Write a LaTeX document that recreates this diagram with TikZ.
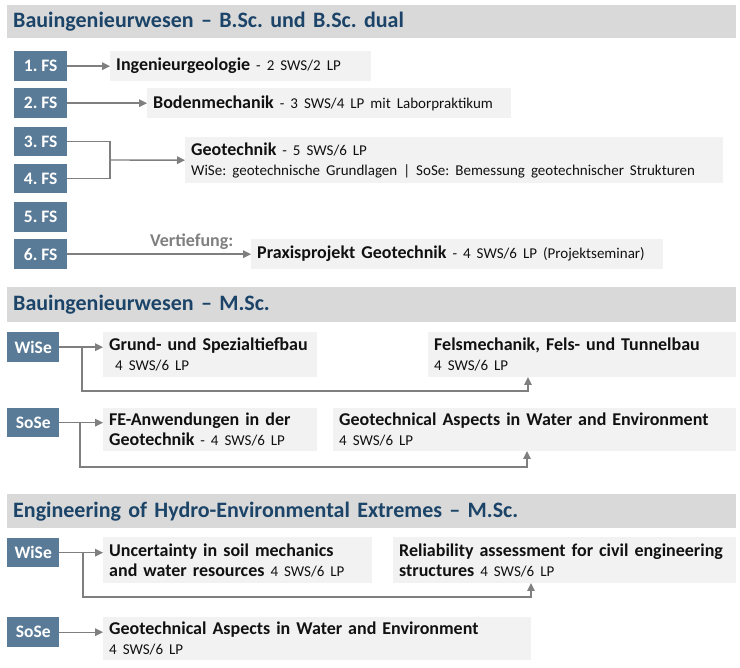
\documentclass[tikz,border=0pt]{standalone}
\usepackage{fontspec}
\setmainfont{Carlito}
\usetikzlibrary{arrows.meta}
\definecolor{hdrband}{HTML}{D9D9D9}
\definecolor{hdrtext}{HTML}{1B4468}
\definecolor{fsblue}{HTML}{5A7B97}
\definecolor{boxgray}{HTML}{F2F2F2}
\definecolor{linegray}{HTML}{7F7F7F}
\definecolor{bodytext}{HTML}{111111}
\frenchspacing
\newcommand\swsx[1]{{\mdseries\fontsize{15}{18}\selectfont #1}}
\tikzset{
  hdr/.style={fill=hdrband, text=hdrtext, anchor=north west, inner xsep=6pt, inner ysep=0pt,
    text width=717pt, align=left, font=\bfseries\fontsize{22}{26}\selectfont},
  fsbox/.style={fill=fsblue, text=white, anchor=north west, inner sep=0pt,
    minimum width=53pt, font=\bfseries\fontsize{17.5}{20}\selectfont},
  modbox/.style={fill=boxgray, text=bodytext, anchor=north west, inner xsep=6pt, inner ysep=0pt,
    align=left, font=\bfseries\fontsize{18}{20}\selectfont},
  conn/.style={draw=linegray, line width=1.4pt},
  arr/.style={conn, -{Triangle[length=8pt,width=7.5pt]}},
}
\begin{document}
\begin{tikzpicture}[x=1pt,y=-1pt]
\useasboundingbox (0,0) rectangle (740,668);
% ---------- Section 1 ----------
\node[hdr, minimum height=33pt] (h1) at (7,5) {Bauingenieurwesen – B.Sc. und B.Sc. dual};
\node[fsbox, minimum height=30pt] (fs1) at (14,51) {1. FS};
\node[fsbox, minimum height=30pt] (fs2) at (14,88) {2. FS};
\node[fsbox, minimum height=29pt] (fs3) at (14,127) {3. FS};
\node[fsbox, minimum height=29pt] (fs4) at (14,164) {4. FS};
\node[fsbox, minimum height=30pt] (fs5) at (14,202) {5. FS};
\node[fsbox, minimum height=30pt] (fs6) at (14,239) {6. FS};
\node[modbox, text width=249pt, minimum height=30pt] (m1) at (110,51) {Ingenieurgeologie \swsx{- 2 SWS/2 LP}};
\node[modbox, text width=352pt, minimum height=30pt] (m2) at (147,88) {Bodenmechanik \swsx{- 3 SWS/4 LP mit Laborpraktikum}};
\node[modbox, text width=526pt, minimum height=46pt] (m3) at (185,137) {Geotechnik \swsx{- 5 SWS/6 LP}\\\swsx{WiSe: geotechnische Grundlagen | SoSe: Bemessung geotechnischer Strukturen}};
\node[modbox, text width=400pt, minimum height=30pt] (m6) at (251,239) {Praxisprojekt Geotechnik \swsx{- 4 SWS/6 LP (Projektseminar)}};
\node[anchor=base west, inner sep=0pt, text=linegray, font=\bfseries\fontsize{18}{20}\selectfont] (vt) at (150,247) {Vertiefung:};
\draw[arr] (fs1.east) -- (m1.west);
\draw[arr] (fs2.east) -- (m2.west);
\coordinate (j34) at (110,160);
\draw[conn] (fs3.east) -| (j34) |- (fs4.east);
\draw[arr] (j34) -- (m3.west);
\draw[arr] (fs6.east) -- (m6.west);
% ---------- Section 2 ----------
\node[hdr, minimum height=35pt] (h2) at (7,287) {Bauingenieurwesen – M.Sc.};
\node[fsbox, minimum width=52pt, minimum height=30pt] (w2) at (7,332) {WiSe};
\node[fsbox, minimum width=52pt, minimum height=29pt] (s2) at (7,408) {SoSe};
\node[modbox, text width=202pt, minimum height=45pt] (g2) at (103,332) {Grund- und Spezialtiefbau\\\swsx{\ 4 SWS/6 LP}};
\node[modbox, text width=296pt, minimum height=45pt] (f2) at (428,332) {Felsmechanik, Fels- und Tunnelbau\\\swsx{4 SWS/6 LP}};
\node[modbox, text width=202pt, minimum height=43pt] (fe2) at (103,408) {FE-Anwendungen in der\\Geotechnik \swsx{- 4 SWS/6 LP}};
\node[modbox, text width=391pt, minimum height=43pt] (ga2) at (333,408) {Geotechnical Aspects in Water and Environment\\\swsx{4 SWS/6 LP}};
\draw[arr] (w2.east) -- (w2.east -| g2.west);
\coordinate (b2) at (82,347);
\coordinate (k2) at (82,391);
\coordinate (e2) at (528,377);
\draw[arr] (b2) -- (k2) -| (e2);
\draw[arr] (s2.east) -- (s2.east -| fe2.west);
\coordinate (b3) at (80,422.5);
\coordinate (k3) at (80,467);
\coordinate (e3) at (527,451);
\draw[arr] (b3) -- (k3) -| (e3);
% ---------- Section 3 ----------
\node[hdr, minimum height=34pt] (h3) at (7,494) {Engineering of Hydro-Environmental Extremes – M.Sc.};
\node[fsbox, minimum width=52pt, minimum height=29pt] (w3) at (7,538) {WiSe};
\node[fsbox, minimum width=52pt, minimum height=30pt] (s3) at (7,617) {SoSe};
\node[modbox, text width=257pt, minimum height=46pt] (u3) at (103,537) {Uncertainty in soil mechanics\\and water resources \swsx{4 SWS/6 LP}};
\node[modbox, text width=331pt, minimum height=46pt] (r3) at (393,537) {Reliability assessment for civil engineering\\structures \swsx{4 SWS/6 LP}};
\node[modbox, text width=416pt, minimum height=43pt] (ga3) at (103,617) {Geotechnical Aspects in Water and Environment\\\swsx{4 SWS/6 LP}};
\draw[arr] (w3.east) -- (w3.east -| u3.west);
\coordinate (b4) at (83,552.5);
\coordinate (k4) at (83,597);
\coordinate (e4) at (531,583);
\draw[arr] (b4) -- (k4) -| (e4);
\draw[arr] (s3.east) -- (s3.east -| ga3.west);
\end{tikzpicture}
\end{document}
